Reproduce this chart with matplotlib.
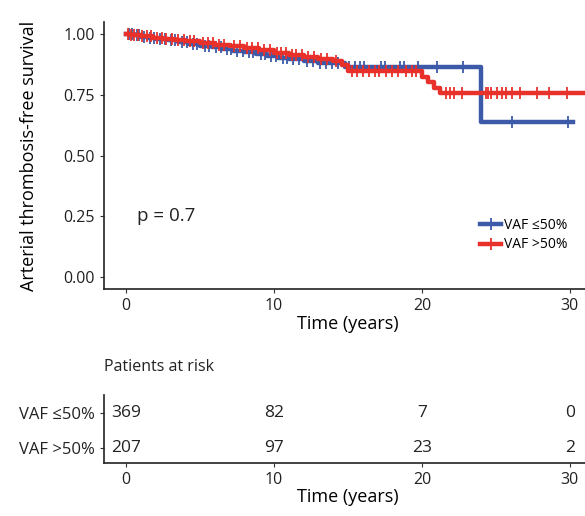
import matplotlib.pyplot as plt

plt.rcParams['font.family'] = ['Open Sans', 'DejaVu Sans']

BLUE = "#3d5aa8"
RED = "#e8312b"

groups = ["VAF ≤50%", "VAF >50%"]

# Kaplan-Meier steps (time in years, survival after the step)
low_t = [0, 0.5, 1.0, 1.5, 2.0, 2.8, 3.5, 4.2, 5.0, 5.8, 6.5, 7.2, 8.0, 8.8, 9.5,
         10.3, 11.0, 12.0, 13.0, 14.8, 24.0]
low_s = [1.0, 0.996, 0.99, 0.985, 0.98, 0.974, 0.967, 0.96, 0.952, 0.945, 0.938, 0.932,
         0.925, 0.918, 0.91, 0.903, 0.897, 0.89, 0.882, 0.864, 0.64]
low_end = 30.2
low_cens = [0.2, 0.4, 0.7, 0.9, 1.2, 1.6, 1.9, 2.3, 2.6, 3.0, 3.3, 3.8, 4.1, 4.5, 4.8,
            5.3, 5.6, 6.1, 6.4, 6.8, 7.1, 7.5, 7.9, 8.3, 8.6, 9.1, 9.4, 9.8, 10.1,
            10.6, 10.9, 11.3, 11.7, 12.2, 12.6, 13.1, 13.5, 13.9, 14.3, 15.1, 15.5,
            15.8, 16.1, 17.2, 17.5, 18.5, 18.8, 19.7, 21.0, 22.8, 26.1, 29.9]

high_t = [0, 0.3, 1.0, 1.8, 2.5, 3.3, 4.0, 5.0, 6.0, 7.0, 8.0, 9.0, 10.0, 11.0, 12.0,
          13.0, 14.0, 14.6, 15.0, 20.0, 20.4, 20.8, 21.2]
high_s = [1.0, 0.997, 0.992, 0.986, 0.981, 0.976, 0.97, 0.963, 0.957, 0.95, 0.942, 0.933,
          0.923, 0.913, 0.905, 0.897, 0.888, 0.872, 0.848, 0.825, 0.803, 0.78, 0.756]
high_end = 31.2
high_cens = [0.1, 0.3, 0.5, 0.8, 1.1, 1.4, 1.7, 2.1, 2.4, 2.7, 3.1, 3.5, 3.9, 4.3, 4.6,
             5.2, 5.5, 5.9, 6.3, 6.6, 7.3, 7.7, 8.2, 8.5, 8.9, 9.3, 9.7, 10.2, 10.5,
             10.8, 11.2, 11.5, 11.9, 12.3, 12.7, 13.2, 13.6, 14.2, 15.3, 15.6, 16.0,
             16.4, 16.8, 17.1, 17.6, 18.0, 18.4, 18.9, 19.3, 19.6, 21.6, 21.9, 22.2,
             22.7, 24.3, 24.5, 24.7, 25.1, 25.4, 25.7, 26.1, 26.6, 27.8, 28.6, 29.8]

risk_times = [0, 10, 20, 30]
risk_low = [369, 82, 7, 0]
risk_high = [207, 97, 23, 2]


def surv_at(ts, ss, x):
    val = ss[0]
    for t, s in zip(ts, ss):
        if t <= x:
            val = s
    return val


fig = plt.figure(figsize=(5.85, 5.16), dpi=100)

ax = fig.add_axes([104 / 585, 1 - 289 / 516, 488 / 585, 267 / 516])
for ts, ss, end, cens, col, lab in [(low_t, low_s, low_end, low_cens, BLUE, groups[0]),
                                     (high_t, high_s, high_end, high_cens, RED, groups[1])]:
    ax.step(ts + [end], ss + [ss[-1]], where="post", color=col, lw=3.2)
    ax.plot(cens, [surv_at(ts, ss, c) for c in cens], ls="none", marker="|",
            ms=9, mew=1.3, color=col)
    ax.plot([], [], color=col, lw=3.2, marker="+", ms=9, mew=1.3, label=lab)

ax.set_xlim(-1.5, 31.5)
ax.set_ylim(-0.05, 1.05)
ax.set_xticks([0, 10, 20, 30])
ax.set_yticks([0, 0.25, 0.5, 0.75, 1.0])
ax.set_yticklabels(["0.00", "0.25", "0.50", "0.75", "1.00"])
ax.tick_params(labelsize=11.5, length=3, color="#333333", labelcolor="#222222")
for sp in ["top", "right"]:
    ax.spines[sp].set_visible(False)
for sp in ["left", "bottom"]:
    ax.spines[sp].set_color("#222222")
    ax.spines[sp].set_linewidth(1.2)
ax.set_xlabel("Time (years)", fontsize=13, labelpad=1)
ax.set_ylabel("Arterial thrombosis-free survival", fontsize=13, labelpad=18)
ax.text(0.7, 0.25, "p = 0.7", fontsize=13.5, va="center", color="#222222")
ax.legend(loc="lower right", bbox_to_anchor=(0.975, 0.09), frameon=False, fontsize=10,
          handlelength=1.5, handletextpad=0.2, labelspacing=0.3)

# risk table
rt = fig.add_axes([104 / 585, 1 - 463 / 516, 488 / 585, 68 / 516])
for vals, row in [(risk_low, 2), (risk_high, 1)]:
    for t, v in zip(risk_times, vals):
        rt.text(t, row, str(v), ha="center", va="center", fontsize=12.5, color="#222222")
rt.set_xlim(-1.5, 31.5)
rt.set_ylim(0.571, 2.514)
rt.set_yticks([2, 1])
rt.set_yticklabels(groups)
rt.set_xticks(risk_times)
rt.tick_params(labelsize=12, length=3, color="#333333", labelcolor="#222222")
rt.tick_params(axis="x", labelsize=11.5)
for sp in ["top", "right"]:
    rt.spines[sp].set_visible(False)
for sp in ["left", "bottom"]:
    rt.spines[sp].set_color("#222222")
    rt.spines[sp].set_linewidth(1.2)
rt.set_xlabel("Time (years)", fontsize=13, labelpad=0)
fig.text(104 / 585, 1 - 367 / 516, "Patients at risk", fontsize=11.5, va="center",
         color="#222222")

fig.savefig("out.png", dpi=100)
